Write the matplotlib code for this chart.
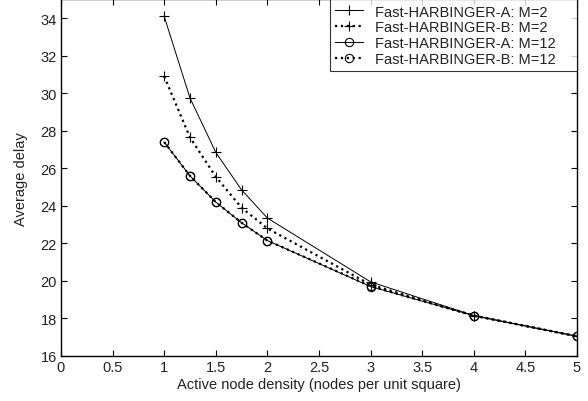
import numpy as np
import matplotlib
matplotlib.use("Agg")
import matplotlib.pyplot as plt

plt.rcParams['font.family'] = ['Liberation Sans', 'DejaVu Sans']

# active node density
density = [1, 1.25, 1.5, 1.75, 2, 3, 4, 5]

# average delay for each scheme
a_m2 = [34.1, 29.75, 26.85, 24.85, 23.35, 19.95, 18.15, 17.05]
b_m2 = [30.9, 27.65, 25.55, 23.9, 22.8, 19.8, 18.15, 17.05]
a_m12 = [27.4, 25.6, 24.2, 23.1, 22.15, 19.7, 18.15, 17.05]
b_m12 = [27.4, 25.6, 24.2, 23.1, 22.15, 19.72, 18.15, 17.05]

labels = ['Fast-HARBINGER-A: M=2', 'Fast-HARBINGER-B: M=2',
          'Fast-HARBINGER-A: M=12', 'Fast-HARBINGER-B: M=12']

fs = 10.5
txt = '#222222'

fig = plt.figure(figsize=(5.88, 4.02), dpi=100)
ax = fig.add_axes([0.1037, 0.112, 0.8776, 0.8868])

ax.plot(density, a_m2, '-', color='k', lw=0.7, marker='+', ms=7, mew=0.8, label=labels[0])
ax.plot(density, b_m2, ':', color='k', lw=1.6, marker='+', ms=7, mew=0.8, label=labels[1])
ax.plot(density, a_m12, '-', color='k', lw=0.7, marker='o', ms=6, mew=0.8,
        mfc='none', label=labels[2])
ax.plot(density, b_m12, ':', color='k', lw=1.6, marker='o', ms=6, mew=0.8,
        mfc='none', label=labels[3])

ax.set_xlim(0, 5)
ax.set_ylim(16, 35)
ax.set_xticks(np.arange(0, 5.01, 0.5))
ax.set_xticklabels(['0', '0.5', '1', '1.5', '2', '2.5', '3', '3.5', '4', '4.5', '5'])
ax.set_yticks(range(16, 35, 2))

ax.tick_params(direction='in', top=True, right=True, length=4, width=0.8,
               labelsize=fs, pad=3, colors='k', labelcolor=txt)
for s in ax.spines.values():
    s.set_linewidth(1.0)

ax.set_xlabel('Active node density (nodes per unit square)', fontsize=fs,
              color=txt, labelpad=2)
ax.set_ylabel('Average delay', fontsize=fs, color=txt, labelpad=9)

# MATLAB-style legend box leaves extra room after the text
leg = ax.legend([l + '    ' for l in labels], loc='upper right', fontsize=fs,
                frameon=True, fancybox=False, edgecolor='k', borderaxespad=0.0,
                handlelength=1.9, handletextpad=0.8, labelspacing=0.12,
                borderpad=0.35)
leg.get_frame().set_linewidth(0.8)
for t in leg.get_texts():
    t.set_color(txt)

fig.savefig('out.png', dpi=100)
